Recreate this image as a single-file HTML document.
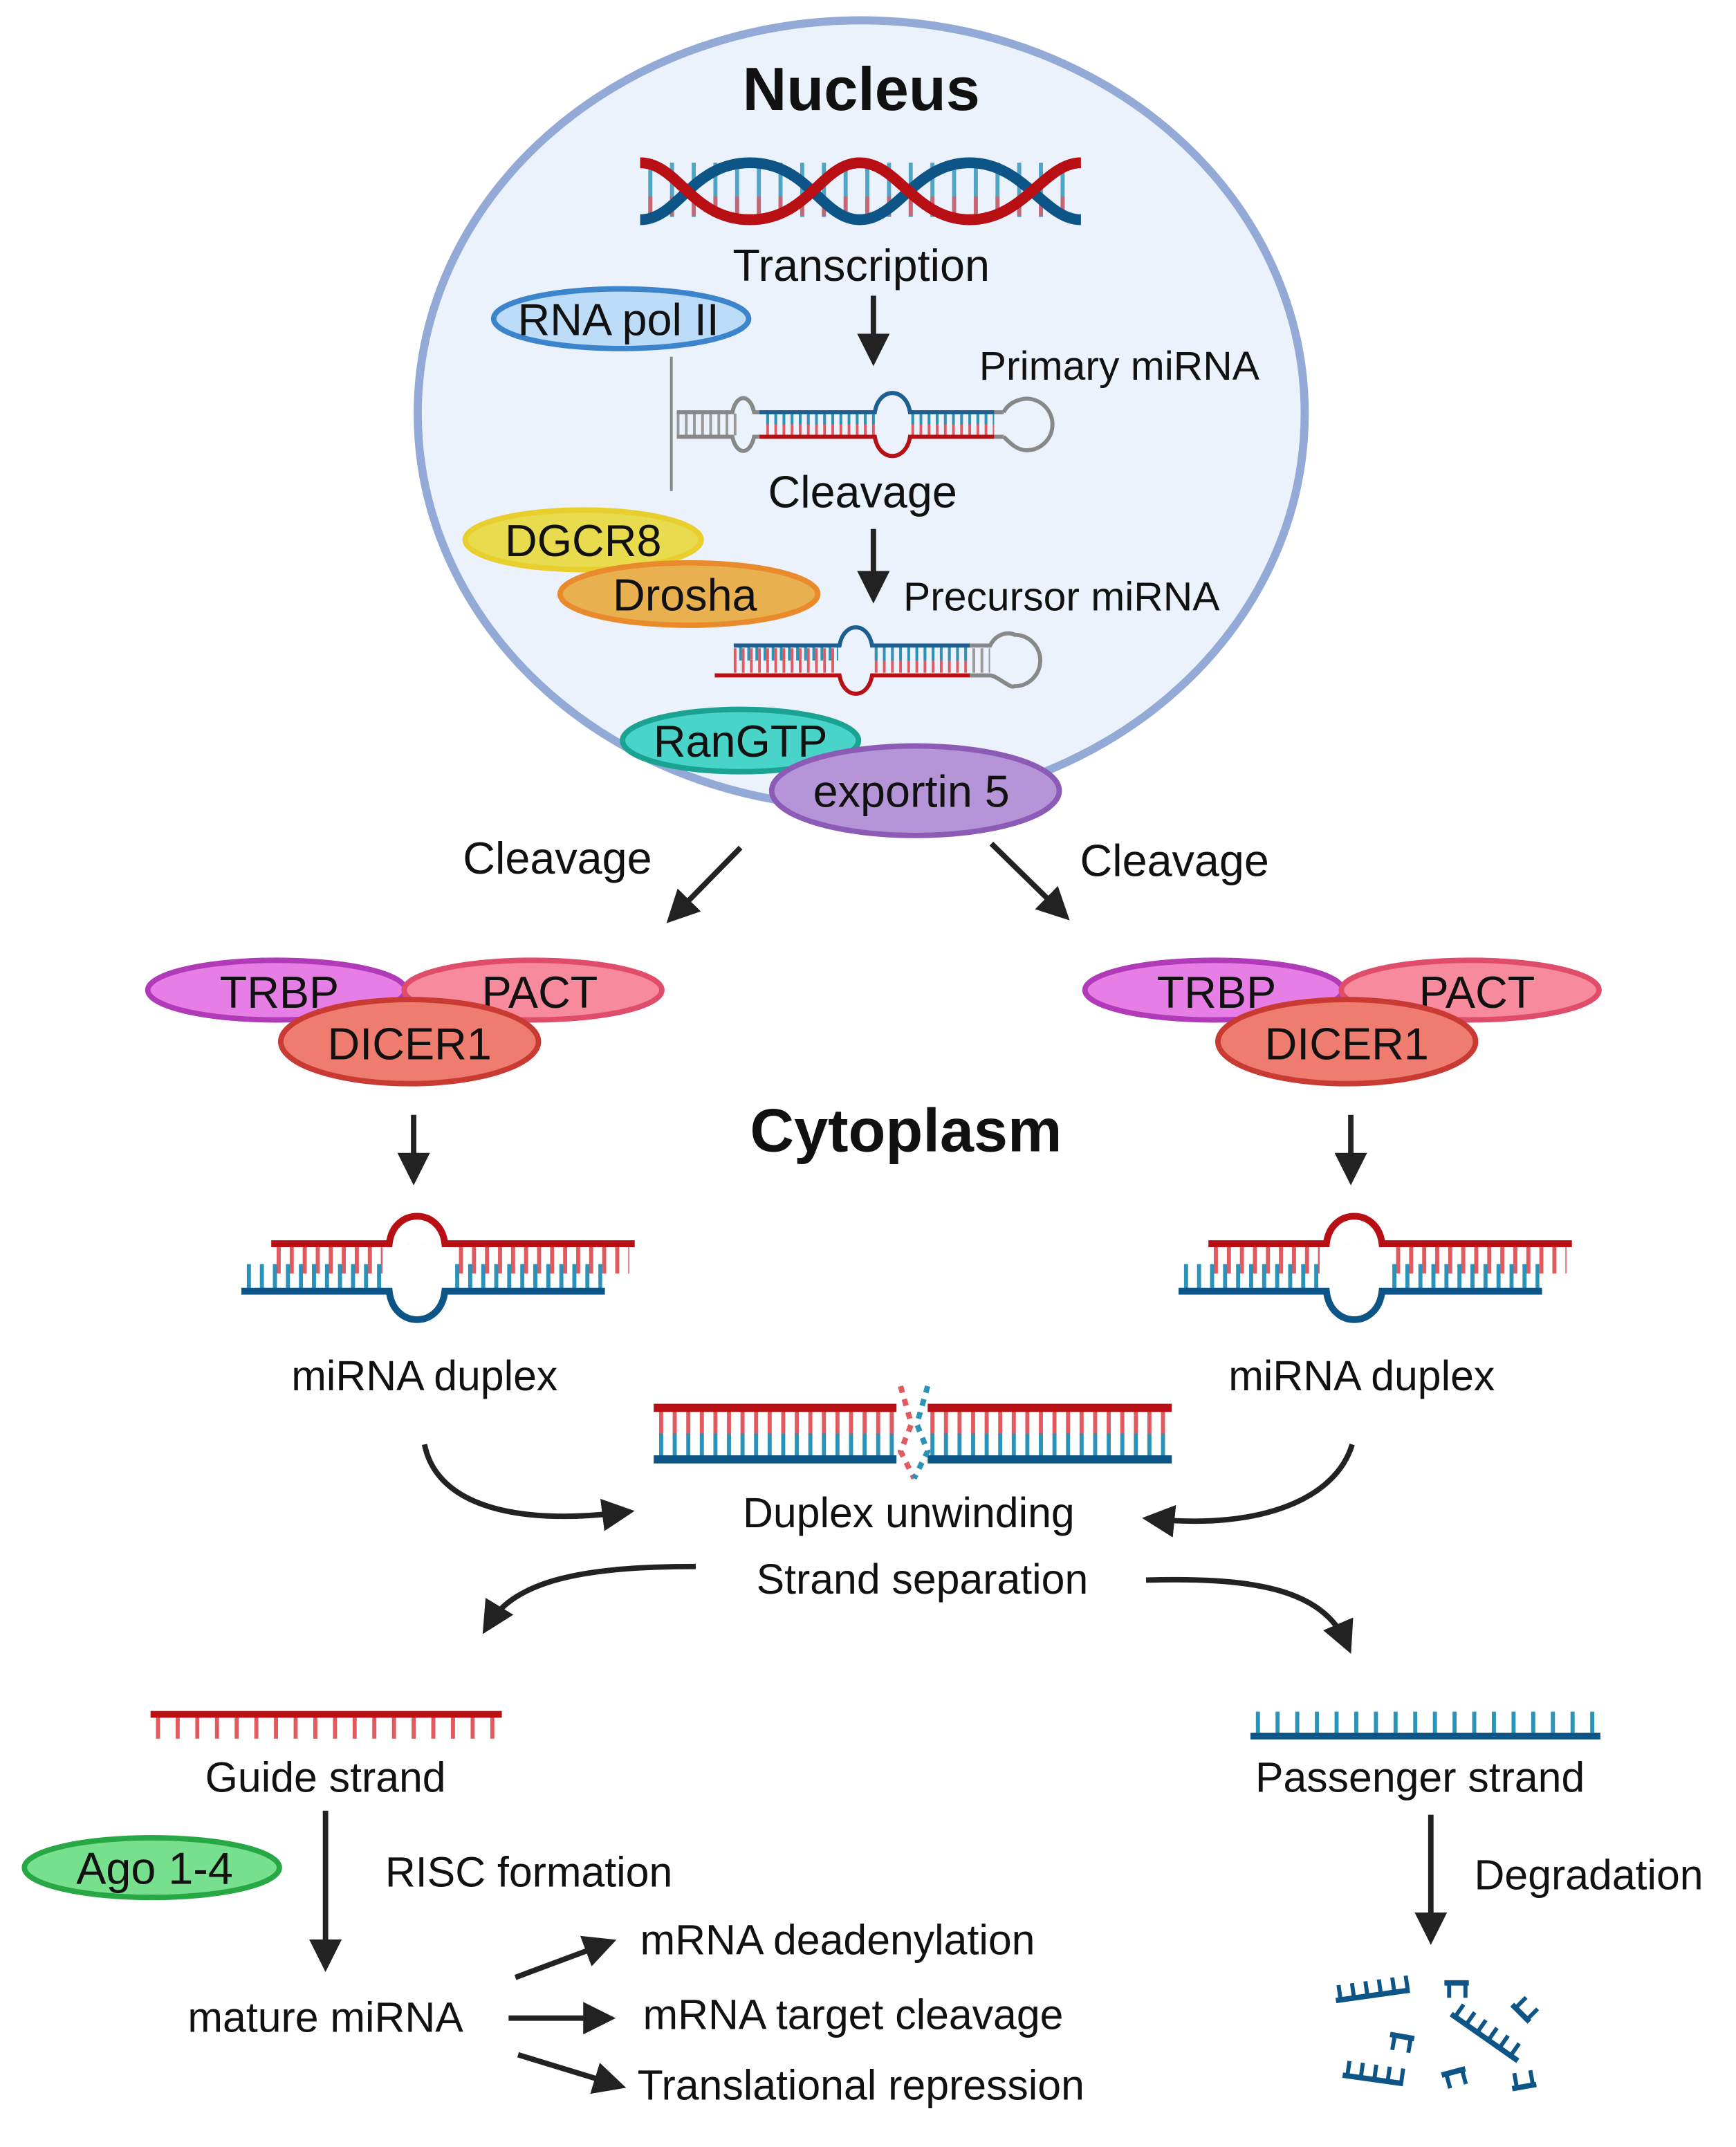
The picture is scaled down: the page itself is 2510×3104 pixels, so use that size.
<!DOCTYPE html>
<html><head><meta charset="utf-8"><style>
html,body{margin:0;padding:0;background:#fff;}
svg{display:block;}
text{font-family:"Liberation Sans",sans-serif;fill:#111;}
</style></head><body>
<svg width="2510" height="3104" viewBox="0 0 1280 1583" preserveAspectRatio="none" xmlns="http://www.w3.org/2000/svg">
<defs>
<marker id="ah" markerWidth="6" markerHeight="6" refX="4" refY="3" orient="auto" markerUnits="strokeWidth"><path d="M0,0 L6,3 L0,6 Z" fill="#222"/></marker>
</defs>
<ellipse cx="635" cy="305" rx="327" ry="290" fill="#ebf2fc" stroke="#93a9d6" stroke-width="6"/>
<text x="635" y="81" font-size="45" font-weight="bold" text-anchor="middle">Nucleus</text>
<g>
<line x1="478" y1="140" x2="792" y2="140" stroke="#2a93b8" stroke-width="40" stroke-dasharray="3 13" opacity="0.8"/>
<line x1="478" y1="152" x2="792" y2="152" stroke="#e05a60" stroke-width="14" stroke-dasharray="3 13" opacity="0.8"/>
<path d="M472,162 C500,162 510,120 553,120 C596,120 606,162 634,162 C662,162 675,120 715,120 C755,120 770,162 797,162" fill="none" stroke="#0e5587" stroke-width="8"/>
<path d="M472,120 C500,120 510,162 553,162 C596,162 606,120 634,120 C662,120 675,162 715,162 C755,162 770,120 797,120" fill="none" stroke="#b70f14" stroke-width="8"/>
</g>
<text x="635" y="207" font-size="33" text-anchor="middle">Transcription</text>
<ellipse cx="458" cy="235" rx="94" ry="22" fill="#bcdcf8" stroke="#3c85cc" stroke-width="4"/>
<text x="456" y="247" font-size="33" text-anchor="middle">RNA pol II</text>
<line x1="644" y1="218" x2="644" y2="262" stroke="#222" stroke-width="4" marker-end="url(#ah)"/>
<text x="722" y="280" font-size="30">Primary miRNA</text>
<line x1="495" y1="263" x2="495" y2="362" stroke="#888" stroke-width="2"/>
<g>
<line x1="499" y1="313" x2="545" y2="313" stroke="#999" stroke-width="16" stroke-dasharray="2 4"/>
<line x1="565" y1="313" x2="645" y2="313" stroke="#e05a60" stroke-width="16" stroke-dasharray="2 4"/>
<line x1="565" y1="309" x2="645" y2="309" stroke="#2a93b8" stroke-width="8" stroke-dasharray="2 4"/>
<line x1="672" y1="313" x2="733" y2="313" stroke="#e05a60" stroke-width="16" stroke-dasharray="2 4"/>
<line x1="672" y1="309" x2="733" y2="309" stroke="#2a93b8" stroke-width="8" stroke-dasharray="2 4"/>
<path d="M499,304 H540 C543,290 553,290 556,304 H645 C648,285 668,285 671,304 H740" fill="none" stroke="#888" stroke-width="3"/>
<path d="M560,304 H645 C648,285 668,285 671,304 H733" fill="none" stroke="#1d5f90" stroke-width="3"/>
<path d="M499,322 H540 C543,336 553,336 556,322 H645 C648,341 668,341 671,322 H740" fill="none" stroke="#888" stroke-width="3"/>
<path d="M560,322 H645 C648,341 668,341 671,322 H733" fill="none" stroke="#b70f14" stroke-width="3"/>
<path d="M740,304 C745,294 757,294 757,294 A19,19 0 1 1 757,332 C750,332 745,327 740,322" fill="none" stroke="#888" stroke-width="3"/>
</g>
<text x="636" y="374" font-size="33" text-anchor="middle">Cleavage</text>
<ellipse cx="430" cy="398" rx="87" ry="22" fill="#e8dc4e" stroke="#e8cf2e" stroke-width="4"/>
<text x="430" y="410" font-size="33" text-anchor="middle">DGCR8</text>
<ellipse cx="508" cy="438" rx="95" ry="23" fill="#e8b04f" stroke="#e98a2c" stroke-width="4"/>
<text x="505" y="450" font-size="33" text-anchor="middle">Drosha</text>
<line x1="644" y1="390" x2="644" y2="437" stroke="#222" stroke-width="4" marker-end="url(#ah)"/>
<text x="666" y="450" font-size="30">Precursor miRNA</text>
<g>
<line x1="541" y1="487" x2="618" y2="487" stroke="#e05a60" stroke-width="18" stroke-dasharray="2 4"/>
<line x1="545" y1="482" x2="618" y2="482" stroke="#2a93b8" stroke-width="10" stroke-dasharray="2 4"/>
<line x1="645" y1="487" x2="715" y2="487" stroke="#e05a60" stroke-width="18" stroke-dasharray="2 4"/>
<line x1="645" y1="482" x2="715" y2="482" stroke="#2a93b8" stroke-width="10" stroke-dasharray="2 4"/>
<line x1="717" y1="487" x2="730" y2="487" stroke="#999" stroke-width="18" stroke-dasharray="2 4"/>
<path d="M541,476 H619 C622,458 640,458 643,476 H715" fill="none" stroke="#1d5f90" stroke-width="3"/>
<path d="M715,476 H730 C735,466 745,466 748,468 A19,19 0 1 1 748,506 C745,508 735,498 730,498 H715" fill="none" stroke="#888" stroke-width="3"/>
<path d="M527,498 H619 C622,516 640,516 643,498 H715" fill="none" stroke="#b70f14" stroke-width="3"/>
</g>
<ellipse cx="546" cy="546" rx="87" ry="23" fill="#48d4c8" stroke="#1aa393" stroke-width="4"/>
<text x="546" y="558" font-size="33" text-anchor="middle">RanGTP</text>
<ellipse cx="675" cy="583" rx="106" ry="33" fill="#b595d8" stroke="#8c5bb5" stroke-width="4"/>
<text x="672" y="595" font-size="33" text-anchor="middle">exportin 5</text>
<text x="411" y="644" font-size="33" text-anchor="middle">Cleavage</text>
<line x1="546" y1="625" x2="497" y2="675" stroke="#222" stroke-width="4" marker-end="url(#ah)"/>
<text x="866" y="646" font-size="33" text-anchor="middle">Cleavage</text>
<line x1="731" y1="622" x2="783" y2="673" stroke="#222" stroke-width="4" marker-end="url(#ah)"/>
<g id="dc">
<ellipse cx="204" cy="730" rx="95" ry="22" fill="#e67ee6" stroke="#b13ab8" stroke-width="4"/>
<ellipse cx="393" cy="730" rx="95" ry="22" fill="#f78a9c" stroke="#e04d6a" stroke-width="4"/>
<text x="206" y="743" font-size="33" text-anchor="middle">TRBP</text>
<text x="398" y="743" font-size="33" text-anchor="middle">PACT</text>
<ellipse cx="302" cy="768" rx="95" ry="31" fill="#ee7c6f" stroke="#c93a33" stroke-width="4"/>
<text x="302" y="781" font-size="33" text-anchor="middle">DICER1</text>
<line x1="305" y1="822" x2="305" y2="866" stroke="#222" stroke-width="4" marker-end="url(#ah)"/>
<line x1="204" y1="928" x2="464" y2="928" stroke="#e05a60" stroke-width="22" stroke-dasharray="3 6.6"/>
<line x1="182" y1="943" x2="444" y2="943" stroke="#2a93b8" stroke-width="22" stroke-dasharray="3 6.6"/>
<rect x="282" y="917" width="50" height="40" fill="#fff"/>
<path d="M200,917 H287 C290,890 325,890 328,917 H468" fill="none" stroke="#b70f14" stroke-width="5"/>
<path d="M178,952 H287 C290,980 325,980 328,952 H446" fill="none" stroke="#0e5587" stroke-width="5"/>
<text x="313" y="1025" font-size="31" text-anchor="middle">miRNA duplex</text>
</g>
<use href="#dc" x="691" y="0"/>
<text x="668" y="849" font-size="45" font-weight="bold" text-anchor="middle">Cytoplasm</text>
<line x1="486" y1="1048" x2="862" y2="1048" stroke="#e05a60" stroke-width="20" stroke-dasharray="3 7"/>
<line x1="486" y1="1066" x2="862" y2="1066" stroke="#2a93b8" stroke-width="18" stroke-dasharray="3 7"/>
<rect x="660" y="1030" width="24" height="55" fill="#fff"/>
<path d="M482,1038 H661 M684,1038 H864" stroke="#b70f14" stroke-width="6"/>
<path d="M482,1076 H661 M684,1076 H864" stroke="#0e5587" stroke-width="6"/>
<path d="M664,1022 L672,1050 L664,1070 L674,1090" fill="none" stroke="#e05a60" stroke-width="4" stroke-dasharray="5 5"/>
<path d="M684,1022 L676,1050 L684,1070 L674,1090" fill="none" stroke="#2a93b8" stroke-width="4" stroke-dasharray="5 5"/>
<text x="670" y="1126" font-size="31" text-anchor="middle">Duplex unwinding</text>
<text x="680" y="1175" font-size="31" text-anchor="middle">Strand separation</text>
<path d="M313,1065 C322,1110 380,1125 460,1115" fill="none" stroke="#222" stroke-width="4" marker-end="url(#ah)"/>
<path d="M997,1065 C985,1105 930,1128 850,1120" fill="none" stroke="#222" stroke-width="4" marker-end="url(#ah)"/>
<path d="M513,1155 C430,1155 380,1165 360,1198" fill="none" stroke="#222" stroke-width="4" marker-end="url(#ah)"/>
<path d="M845,1165 C920,1163 975,1170 993,1212" fill="none" stroke="#222" stroke-width="4" marker-end="url(#ah)"/>
<line x1="115" y1="1273" x2="370" y2="1273" stroke="#e05a60" stroke-width="18" stroke-dasharray="3 11.5"/>
<line x1="111" y1="1264" x2="370" y2="1264" stroke="#b70f14" stroke-width="5"/>
<text x="240" y="1321" font-size="31" text-anchor="middle">Guide strand</text>
<line x1="926" y1="1271" x2="1180" y2="1271" stroke="#2a93b8" stroke-width="18" stroke-dasharray="3 11.5"/>
<line x1="922" y1="1280" x2="1180" y2="1280" stroke="#0e5587" stroke-width="5"/>
<text x="1047" y="1321" font-size="31" text-anchor="middle">Passenger strand</text>
<ellipse cx="112" cy="1377" rx="94" ry="22" fill="#77e08e" stroke="#27a844" stroke-width="4"/>
<text x="114" y="1389" font-size="33" text-anchor="middle">Ago 1-4</text>
<line x1="240" y1="1335" x2="240" y2="1446" stroke="#222" stroke-width="4" marker-end="url(#ah)"/>
<text x="284" y="1391" font-size="31">RISC formation</text>
<text x="240" y="1498" font-size="31" text-anchor="middle">mature miRNA</text>
<line x1="380" y1="1458" x2="447" y2="1433" stroke="#222" stroke-width="4" marker-end="url(#ah)"/>
<line x1="375" y1="1488" x2="446" y2="1488" stroke="#222" stroke-width="4" marker-end="url(#ah)"/>
<line x1="382" y1="1515" x2="454" y2="1537" stroke="#222" stroke-width="4" marker-end="url(#ah)"/>
<text x="472" y="1441" font-size="31">mRNA deadenylation</text>
<text x="474" y="1496" font-size="31">mRNA target cleavage</text>
<text x="470" y="1548" font-size="31">Translational repression</text>
<line x1="1055" y1="1338" x2="1055" y2="1426" stroke="#222" stroke-width="4" marker-end="url(#ah)"/>
<text x="1087" y="1393" font-size="31">Degradation</text>
<g stroke="#0e5587" fill="none">
<g transform="translate(985,1475) rotate(-8)"><line x1="0" y1="0" x2="55" y2="0" stroke-width="4"/><line x1="2" y1="-6" x2="55" y2="-6" stroke-width="10" stroke-dasharray="3 7"/></g>
<g transform="translate(990,1530) rotate(8)"><line x1="0" y1="0" x2="45" y2="0" stroke-width="4"/><line x1="2" y1="-6" x2="45" y2="-6" stroke-width="10" stroke-dasharray="3 7"/></g>
<g transform="translate(1065,1462)"><line x1="0" y1="0" x2="18" y2="0" stroke-width="4"/><line x1="2" y1="6" x2="18" y2="6" stroke-width="10" stroke-dasharray="3 9"/></g>
<g transform="translate(1025,1500) rotate(10)"><line x1="0" y1="0" x2="18" y2="0" stroke-width="4"/><line x1="2" y1="6" x2="18" y2="6" stroke-width="10" stroke-dasharray="3 9"/></g>
<g transform="translate(1063,1530) rotate(-15)"><line x1="0" y1="0" x2="18" y2="0" stroke-width="4"/><line x1="2" y1="6" x2="18" y2="6" stroke-width="10" stroke-dasharray="3 9"/></g>
<g transform="translate(1070,1485) rotate(35)"><line x1="0" y1="0" x2="60" y2="0" stroke-width="4"/><line x1="2" y1="-6" x2="60" y2="-6" stroke-width="10" stroke-dasharray="3 7"/></g>
<g transform="translate(1115,1478) rotate(45)"><line x1="0" y1="0" x2="18" y2="0" stroke-width="4"/><line x1="2" y1="-6" x2="18" y2="-6" stroke-width="10" stroke-dasharray="3 9"/></g>
<g transform="translate(1115,1540) rotate(-10)"><line x1="0" y1="0" x2="18" y2="0" stroke-width="4"/><line x1="2" y1="-6" x2="18" y2="-6" stroke-width="10" stroke-dasharray="3 9"/></g>
</g>
</svg>
</body></html>
